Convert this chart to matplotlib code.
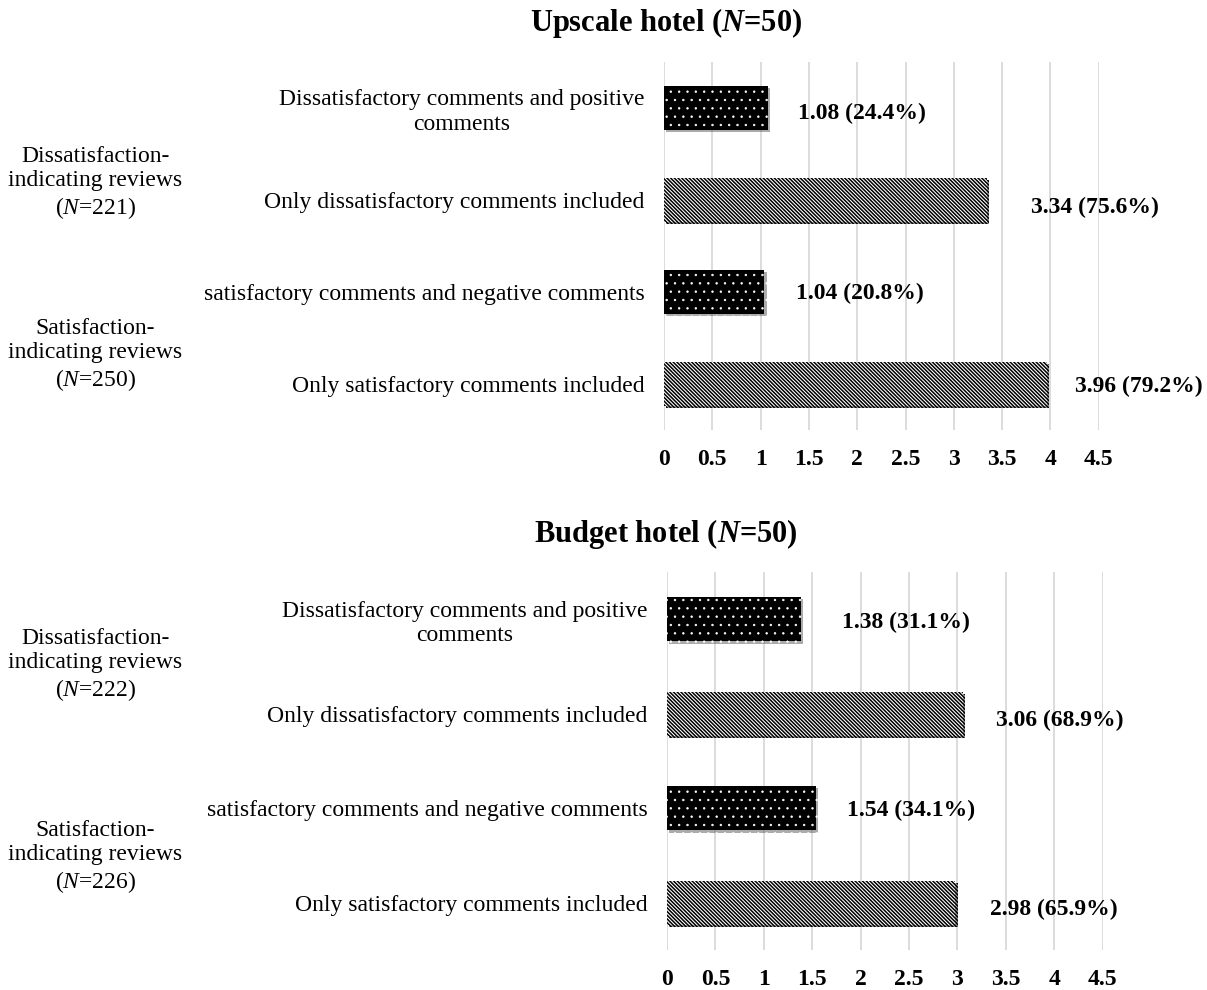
import matplotlib.pyplot as plt
import matplotlib.patheffects as pe

plt.rcParams['font.family'] = ['Liberation Serif', 'DejaVu Serif']
plt.rcParams['mathtext.fontset'] = 'custom'
plt.rcParams['mathtext.rm'] = 'Liberation Serif'
plt.rcParams['mathtext.it'] = 'Liberation Serif:italic'
plt.rcParams['mathtext.bf'] = 'Liberation Serif:bold'
plt.rcParams['mathtext.bfit'] = 'Liberation Serif:italic:bold'
plt.rcParams['hatch.linewidth'] = 1.1

# 评论类别（自上而下）
categories = ['Dissatisfactory comments and positive\ncomments',
              'Only dissatisfactory comments included',
              'satisfactory comments and negative comments',
              'Only satisfactory comments included']
group_names = ['Dissatisfaction-\nindicating reviews', 'Satisfaction-\nindicating reviews']
xticks = [0, 0.5, 1, 1.5, 2, 2.5, 3, 3.5, 4, 4.5]
xtick_labels = ['0', '0.5', '1', '1.5', '2', '2.5', '3', '3.5', '4', '4.5']

# 高档酒店
upscale_n = 50
upscale_values = [1.08, 3.34, 1.04, 3.96]
upscale_pct = [24.4, 75.6, 20.8, 79.2]
upscale_groups = [221, 250]

# 经济型酒店
budget_n = 50
budget_values = [1.38, 3.06, 1.54, 2.98]
budget_pct = [31.1, 68.9, 34.1, 65.9]
budget_groups = [222, 226]

fig = plt.figure(figsize=(12.07, 9.9), dpi=100)
ax_top = fig.add_axes([0.5501, 0.5657, 0.3602, 0.3717])
ax_bot = fig.add_axes([0.5526, 0.0404, 0.3609, 0.3818])


def draw_panel(ax, name, n, values, pct, groups, label_gap, label_dy, group_y, title_y):
    ypos = [3, 2, 1, 0]
    bars = ax.barh(ypos, values, height=0.47, linewidth=0, zorder=3)
    for i, b in enumerate(bars):
        if i % 2 == 0:
            # 黑底白点
            b.set_facecolor('black')
            b.set_edgecolor('white')
            b.set_hatch('..')
            if hasattr(b, 'set_hatch_linewidth'):
                b.set_hatch_linewidth(0.5)
        else:
            # 白底斜纹
            b.set_facecolor('white')
            b.set_edgecolor('black')
            b.set_hatch('\\' * 9)
        b.set_linewidth(0)
        b.set_path_effects([pe.SimplePatchShadow(offset=(1.5, -1.5), shadow_rgbFace='0.35', alpha=0.5),
                            pe.Normal()])

    for y, v, p, g, dy in zip(ypos, values, pct, label_gap, label_dy):
        ax.text(v + g, y - dy, f'{v:.2f} ({p:.1f}%)', va='center', ha='left',
                fontsize=17, fontweight='bold', clip_on=False)

    ax.set_xlim(0, 4.5)
    ax.set_ylim(-0.5, 3.5)
    ax.set_xticks(xticks)
    ax.set_xticklabels(xtick_labels, fontsize=17, fontweight='bold')
    ax.set_yticks(ypos)
    ax.set_yticklabels(categories, fontsize=17, multialignment='center')
    ax.tick_params(axis='x', length=0, pad=14)
    ax.tick_params(axis='y', length=0, pad=14)
    ax.xaxis.grid(True, color='#d9d9d9', linewidth=1.3)
    ax.set_axisbelow(True)
    for s in ax.spines.values():
        s.set_visible(False)

    for gy, gname, gn in zip(group_y, group_names, groups):
        fig.text(0.079, gy, gname + '\n($\\mathit{N}$=' + str(gn) + ')', fontsize=17,
                 ha='center', va='center', multialignment='center', linespacing=1.2)

    fig.text(0.552, title_y, name + ' ($\\mathbfit{N}$=' + str(n) + ')', fontsize=22,
             fontweight='bold', ha='center', va='center')


draw_panel(ax_top, 'Upscale hotel', upscale_n, upscale_values, upscale_pct, upscale_groups,
           [0.31, 0.46, 0.325, 0.29], [0.06, 0.08, 0.02, 0.03], [0.815, 0.641], 0.977)
draw_panel(ax_bot, 'Budget hotel', budget_n, budget_values, budget_pct, budget_groups,
           [0.43, 0.34, 0.315, 0.36], [0.03, 0.07, 0.02, 0.07], [0.328, 0.134], 0.4606)

fig.savefig('out.png', dpi=100)
